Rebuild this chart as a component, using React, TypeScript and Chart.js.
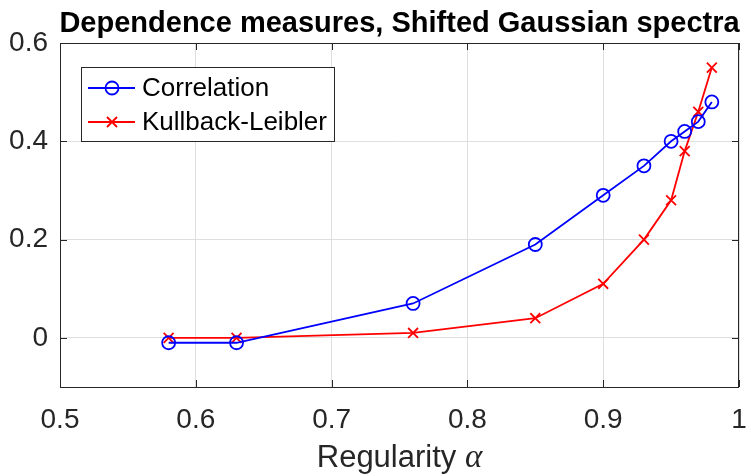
import { useRef, useEffect } from "react"
import { Chart, registerables, type Plugin } from "chart.js"

Chart.register(...registerables)

// values
const alphaValues = [0.58, 0.63, 0.76, 0.85, 0.9, 0.93, 0.95, 0.96, 0.97, 0.98]
const correlation = [-0.01, -0.01, 0.07, 0.19, 0.29, 0.35, 0.4, 0.42, 0.44, 0.48]
const kullbackLeibler = [0, 0, 0.01, 0.04, 0.11, 0.2, 0.28, 0.38, 0.46, 0.55]
const seriesNames = ["Correlation", "Kullback-Leibler"]
const xTicks = [0.5, 0.6, 0.7, 0.8, 0.9, 1]
const yTicks = [0, 0.2, 0.4, 0.6]

const SANS = "'Liberation Sans', Arial, Helvetica, sans-serif"
const AXIS_COLOR = "#262626"

// MATLAB-like box, inward ticks, legend and titles
const matlabLook: Plugin<"line"> = {
  id: "matlabLook",
  afterDatasetsDraw(chart) {
    const { ctx, chartArea: a, scales } = chart
    const x = scales.x
    const y = scales.y
    ctx.save()
    ctx.strokeStyle = AXIS_COLOR
    ctx.lineWidth = 1
    ctx.strokeRect(a.left + 0.5, a.top + 0.5, a.right - a.left - 1, a.bottom - a.top)
    const tl = 7
    ctx.beginPath()
    for (const v of xTicks) {
      const px = Math.round(x.getPixelForValue(v)) + 0.5
      ctx.moveTo(px, a.bottom)
      ctx.lineTo(px, a.bottom - tl)
      ctx.moveTo(px, a.top)
      ctx.lineTo(px, a.top + tl)
    }
    for (const v of yTicks) {
      const py = Math.round(y.getPixelForValue(v)) + 0.5
      ctx.moveTo(a.left, py)
      ctx.lineTo(a.left + tl, py)
      ctx.moveTo(a.right, py)
      ctx.lineTo(a.right - tl, py)
    }
    ctx.stroke()

    // legend
    const lx = 81
    const ly = 67
    const lw = 253
    const lh = 74
    ctx.fillStyle = "#ffffff"
    ctx.fillRect(lx, ly, lw, lh)
    ctx.strokeStyle = AXIS_COLOR
    ctx.strokeRect(lx + 0.5, ly + 0.5, lw, lh)
    const rows = [88, 122]
    chart.data.datasets.forEach((ds, i) => {
      const ry = rows[i]
      const color = ds.borderColor as string
      ctx.strokeStyle = color
      ctx.lineWidth = 1.8
      ctx.beginPath()
      ctx.moveTo(88, ry)
      ctx.lineTo(135, ry)
      ctx.stroke()
      ctx.beginPath()
      if (i === 0) {
        ctx.arc(112, ry, 6.5, 0, Math.PI * 2)
      } else {
        ctx.moveTo(107, ry - 5)
        ctx.lineTo(117, ry + 5)
        ctx.moveTo(107, ry + 5)
        ctx.lineTo(117, ry - 5)
      }
      ctx.stroke()
      ctx.fillStyle = "#000000"
      ctx.font = `26px ${SANS}`
      ctx.textBaseline = "middle"
      ctx.textAlign = "left"
      ctx.fillText(ds.label as string, 142, ry + 1)
    })
    ctx.restore()
  },
  afterDraw(chart) {
    const { ctx, chartArea: a } = chart
    const cx = (a.left + a.right) / 2
    ctx.save()
    ctx.fillStyle = "#000000"
    ctx.font = `bold 29px ${SANS}`
    ctx.textAlign = "center"
    ctx.textBaseline = "alphabetic"
    ctx.fillText("Dependence measures, Shifted Gaussian spectra", cx, 32)

    // x-axis title with italic alpha
    ctx.fillStyle = AXIS_COLOR
    const mainFont = `31px ${SANS}`
    const alphaFont = `italic 33px 'Liberation Serif', 'DejaVu Serif', serif`
    ctx.font = mainFont
    const w1 = ctx.measureText("Regularity ").width
    ctx.font = alphaFont
    const w2 = ctx.measureText("α").width
    const start = cx - (w1 + w2) / 2
    ctx.textAlign = "left"
    ctx.font = mainFont
    ctx.fillText("Regularity ", start, 467)
    ctx.font = alphaFont
    ctx.fillText("α", start + w1, 467)
    ctx.restore()
  },
}

export default function App() {
  const canvasRef = useRef<HTMLCanvasElement>(null)
  const chartRef = useRef<Chart | null>(null)

  useEffect(() => {
    if (!canvasRef.current) return
    if (chartRef.current) chartRef.current.destroy()

    const ctx = canvasRef.current.getContext("2d")
    if (ctx) {
      chartRef.current = new Chart(ctx, {
        type: "line",
        data: {
          datasets: [
            {
              label: seriesNames[0],
              data: alphaValues.map((a, i) => ({ x: a, y: correlation[i] })),
              borderColor: "#0000ff",
              backgroundColor: "transparent",
              borderWidth: 1.8,
              pointStyle: "circle",
              pointRadius: 6.5,
              pointBorderWidth: 1.8,
              pointBackgroundColor: "transparent",
              pointBorderColor: "#0000ff",
              tension: 0,
            },
            {
              label: seriesNames[1],
              data: alphaValues.map((a, i) => ({ x: a, y: kullbackLeibler[i] })),
              borderColor: "#ff0000",
              backgroundColor: "transparent",
              borderWidth: 1.8,
              pointStyle: "crossRot",
              pointRadius: 7,
              pointBorderWidth: 1.8,
              pointBorderColor: "#ff0000",
              tension: 0,
            },
          ],
        },
        options: {
          animation: false,
          responsive: true,
          maintainAspectRatio: false,
          layout: { padding: { top: 43, right: 12, left: 0, bottom: 0 } },
          plugins: {
            legend: { display: false },
            title: { display: false },
            tooltip: { enabled: false },
          },
          scales: {
            x: {
              type: "linear",
              min: 0.5,
              max: 1,
              afterBuildTicks: (scale) => {
                scale.ticks = xTicks.map((value) => ({ value }))
              },
              afterFit: (scale) => {
                scale.height = 89
                scale.paddingLeft = 0
                scale.paddingRight = 0
              },
              grid: { color: "#dfdfdf", drawTicks: false },
              border: { display: false },
              ticks: {
                padding: 16,
                color: AXIS_COLOR,
                font: { family: SANS, size: 28 },
                maxRotation: 0,
                callback: (v) => String(Number(Number(v).toFixed(2))),
              },
            },
            y: {
              type: "linear",
              min: -0.1,
              max: 0.6,
              afterBuildTicks: (scale) => {
                scale.ticks = yTicks.map((value) => ({ value }))
              },
              afterFit: (scale) => {
                scale.width = 60
                scale.paddingTop = 0
                scale.paddingBottom = 0
              },
              grid: { color: "#dfdfdf", drawTicks: false },
              border: { display: false },
              ticks: {
                padding: 12,
                color: AXIS_COLOR,
                font: { family: SANS, size: 28 },
                callback: (v) => String(Number(Number(v).toFixed(2))),
              },
            },
          },
        },
        plugins: [matlabLook],
      })
    }

    return () => {
      if (chartRef.current) {
        chartRef.current.destroy()
        chartRef.current = null
      }
    }
  }, [])

  return (
    <div style={{ position: "fixed", left: 0, top: 0, width: "751px", height: "476px", background: "#ffffff" }}>
      <canvas ref={canvasRef}></canvas>
    </div>
  )
}
